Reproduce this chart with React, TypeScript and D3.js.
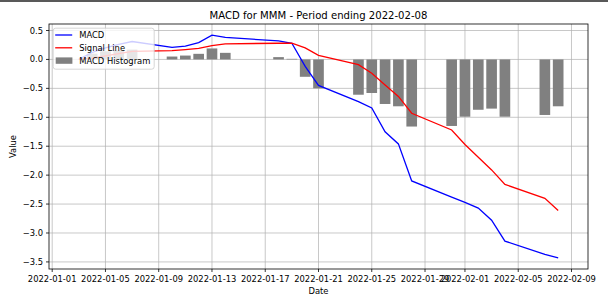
import React, { useEffect, useRef } from "react";
import * as d3 from "d3";

// trading days shown in the chart
const dates = [
  "2022-01-03", "2022-01-04", "2022-01-05", "2022-01-06", "2022-01-07",
  "2022-01-10", "2022-01-11", "2022-01-12", "2022-01-13", "2022-01-14",
  "2022-01-18", "2022-01-19", "2022-01-20", "2022-01-21", "2022-01-24",
  "2022-01-25", "2022-01-26", "2022-01-27", "2022-01-28", "2022-01-31",
  "2022-02-01", "2022-02-02", "2022-02-03", "2022-02-04", "2022-02-07",
  "2022-02-08",
];

const macd = [
  0, 0.12, 0.2, 0.26, 0.31, 0.21, 0.23, 0.29, 0.42, 0.38, 0.32, 0.28, -0.12,
  -0.45, -0.73, -0.84, -1.25, -1.46, -2.1, -2.38, -2.47, -2.57, -2.78, -3.14,
  -3.37, -3.43,
];

const signal = [
  0, 0.024, 0.06, 0.1, 0.14, 0.154, 0.17, 0.19, 0.24, 0.27, 0.28, 0.28, 0.2,
  0.07, -0.09, -0.24, -0.44, -0.64, -0.93, -1.22, -1.47, -1.69, -1.91, -2.16,
  -2.4, -2.61,
];

const histogram = [
  0, 0.1, 0.14, 0.16, 0.17, 0.05, 0.067, 0.097, 0.19, 0.114, 0.04, 0.01, -0.3,
  -0.5, -0.61, -0.58, -0.77, -0.81, -1.16, -1.15, -0.99, -0.87, -0.85, -0.99,
  -0.96, -0.81,
];

const xTicks = [
  "2022-01-01", "2022-01-05", "2022-01-09", "2022-01-13", "2022-01-17",
  "2022-01-21", "2022-01-25", "2022-01-29", "2022-02-01", "2022-02-05",
  "2022-02-09",
];

const yTicks = [-3.5, -3, -2.5, -2, -1.5, -1, -0.5, 0, 0.5];

const legendItems = ["MACD", "Signal Line", "MACD Histogram"];

const W = 608;
const H = 304;
const margin = { left: 49, right: 20, top: 24, bottom: 35 };
const DAY = 24 * 3600 * 1000;
const FONT = "DejaVu Sans, sans-serif";

const App = () => {
  const ref = useRef(null);

  useEffect(() => {
    const svg = d3.select(ref.current);
    svg.selectAll("*").remove();

    const parse = d3.utcParse("%Y-%m-%d");
    const days = dates.map(d => parse(d));
    const barW = 0.8 * DAY;

    // matplotlib style 5% padding around the data
    const x0 = +days[0] - barW / 2;
    const x1 = +days[days.length - 1] + barW / 2;
    const xPad = (x1 - x0) * 0.05;
    const x = d3
      .scaleUtc()
      .domain([new Date(x0 - xPad), new Date(x1 + xPad)])
      .range([margin.left, W - margin.right]);

    const all = macd.concat(signal, histogram);
    const [lo, hi] = d3.extent(all);
    const yPad = (hi - lo) * 0.05;
    const y = d3
      .scaleLinear()
      .domain([lo - yPad, hi + yPad])
      .range([H - margin.bottom, margin.top]);

    const left = margin.left;
    const right = W - margin.right;
    const top = margin.top;
    const bottom = H - margin.bottom;

    // thin border at very top of the image
    svg.append("line")
      .attr("x1", 0).attr("x2", W).attr("y1", 1).attr("y2", 1)
      .attr("stroke", "#222").attr("stroke-width", 1.5);

    // grid
    const grid = svg.append("g").attr("stroke", "#b0b0b0").attr("stroke-width", 0.7);
    xTicks.forEach(t => {
      const px = x(parse(t));
      grid.append("line").attr("x1", px).attr("x2", px).attr("y1", top).attr("y2", bottom);
    });
    yTicks.forEach(t => {
      grid.append("line").attr("x1", left).attr("x2", right).attr("y1", y(t)).attr("y2", y(t));
    });

    // histogram bars
    svg.append("g")
      .selectAll("rect")
      .data(histogram)
      .enter()
      .append("rect")
      .attr("x", (d, i) => x(new Date(+days[i] - barW / 2)))
      .attr("width", (d, i) => x(new Date(+days[i] + barW / 2)) - x(new Date(+days[i] - barW / 2)))
      .attr("y", d => y(Math.max(0, d)))
      .attr("height", d => Math.abs(y(d) - y(0)))
      .attr("fill", "gray");

    const line = d3
      .line()
      .x((d, i) => x(days[i]))
      .y(d => y(d));

    svg.append("path")
      .attr("d", line(macd))
      .attr("fill", "none")
      .attr("stroke", "blue")
      .attr("stroke-width", 1.3);

    svg.append("path")
      .attr("d", line(signal))
      .attr("fill", "none")
      .attr("stroke", "red")
      .attr("stroke-width", 1.3);

    // axes frame
    svg.append("rect")
      .attr("x", left).attr("y", top)
      .attr("width", right - left).attr("height", bottom - top)
      .attr("fill", "none").attr("stroke", "#000").attr("stroke-width", 0.8);

    // x ticks
    const fmt = d3.utcFormat("%Y-%m-%d");
    const xt = svg.append("g").attr("font-family", FONT).attr("font-size", 8.4).attr("fill", "#000");
    xTicks.forEach(t => {
      const px = x(parse(t));
      xt.append("line").attr("x1", px).attr("x2", px).attr("y1", bottom).attr("y2", bottom + 3)
        .attr("stroke", "#000").attr("stroke-width", 0.8);
      xt.append("text").attr("x", px).attr("y", bottom + 12.5).attr("text-anchor", "middle")
        .text(fmt(parse(t)));
    });

    // y ticks
    const yt = svg.append("g").attr("font-family", FONT).attr("font-size", 8.4).attr("fill", "#000");
    yTicks.forEach(t => {
      const py = y(t);
      yt.append("line").attr("x1", left - 3).attr("x2", left).attr("y1", py).attr("y2", py)
        .attr("stroke", "#000").attr("stroke-width", 0.8);
      yt.append("text").attr("x", left - 6).attr("y", py + 3).attr("text-anchor", "end")
        .text(t.toFixed(1).replace("-", "\u2212"));
    });

    // titles
    svg.append("text")
      .attr("x", (left + right) / 2).attr("y", 18.5)
      .attr("text-anchor", "middle")
      .attr("font-family", FONT).attr("font-size", 10.1)
      .text("MACD for MMM - Period ending 2022-02-08");

    svg.append("text")
      .attr("x", (left + right) / 2).attr("y", 293.5)
      .attr("text-anchor", "middle")
      .attr("font-family", FONT).attr("font-size", 8.4)
      .text("Date");

    svg.append("text")
      .attr("transform", `translate(16,${(top + bottom) / 2}) rotate(-90)`)
      .attr("text-anchor", "middle")
      .attr("font-family", FONT).attr("font-size", 8.4)
      .text("Value");

    // legend
    const lg = svg.append("g").attr("transform", `translate(${left + 4.2},${top + 4.2})`);
    lg.append("rect")
      .attr("width", 101).attr("height", 41).attr("rx", 2.5)
      .attr("fill", "white").attr("fill-opacity", 0.8)
      .attr("stroke", "#cccccc").attr("stroke-width", 0.8);
    const colors = ["blue", "red", "gray"];
    legendItems.forEach((name, i) => {
      const cy = 6.8 + i * 12.8;
      if (i < 2) {
        lg.append("line").attr("x1", 2).attr("x2", 19).attr("y1", cy).attr("y2", cy)
          .attr("stroke", colors[i]).attr("stroke-width", 1.3);
      } else {
        lg.append("rect").attr("x", 2.5).attr("y", cy - 3.2).attr("width", 16.7).attr("height", 6.4)
          .attr("fill", colors[i]);
      }
      lg.append("text").attr("x", 26).attr("y", cy + 3)
        .attr("font-family", FONT).attr("font-size", 8.4)
        .text(name);
    });
  }, []);

  return (
    <div style={{ position: "absolute", left: 0, top: 0 }}>
      <svg ref={ref} width={W} height={H} style={{ display: "block", background: "white" }} />
    </div>
  );
};

export default App;
